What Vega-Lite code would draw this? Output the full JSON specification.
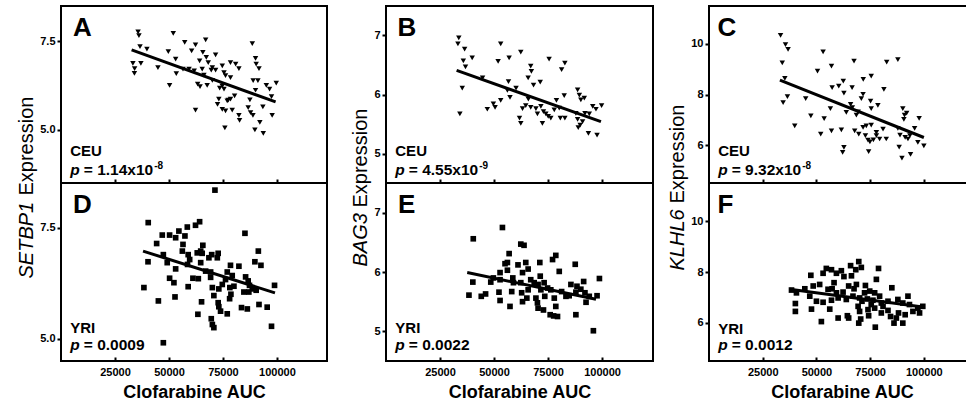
{
  "$schema": "https://vega.github.io/schema/vega-lite/v6.json",
  "background": "white",
  "padding": {"left": 15, "top": 5, "right": 0, "bottom": 0},
  "config": {
    "font": "Liberation Sans",
    "view": {"stroke": "black", "strokeWidth": 2},
    "axis": {"grid": false, "domain": false, "tickColor": "black", "tickWidth": 2, "labelColor": "black", "labelFont": "Liberation Sans", "labelFontWeight": "bold", "labelFontSize": 11, "titleColor": "black", "titleFont": "Liberation Sans"},
    "axisY": {"tickSize": 4, "labelPadding": 2, "titleFontSize": 20, "titleFontWeight": "normal", "titleAngle": 270, "titleAlign": "left", "titlePadding": 3},
    "axisX": {"tickSize": -4, "labelPadding": 9, "titleFontSize": 18, "titleFontWeight": "bold", "titlePadding": 6, "format": "d"}
  },
  "datasets": {
    "pts": [
      {"panel":"A","auc":35700,"expr":7.77},{"panel":"A","auc":36100,"expr":7.66},{"panel":"A","auc":52000,"expr":7.73},{"panel":"A","auc":36600,"expr":7.35},{"panel":"A","auc":39800,"expr":7.28},{"panel":"A","auc":33300,"expr":6.88},{"panel":"A","auc":34100,"expr":6.73},{"panel":"A","auc":34000,"expr":6.60},{"panel":"A","auc":37000,"expr":6.88},{"panel":"A","auc":44900,"expr":6.76},{"panel":"A","auc":50300,"expr":6.26},{"panel":"A","auc":49700,"expr":7.21},{"panel":"A","auc":53100,"expr":7.00},{"panel":"A","auc":53400,"expr":6.59},{"panel":"A","auc":57300,"expr":7.47},{"panel":"A","auc":62300,"expr":7.40},{"panel":"A","auc":60500,"expr":7.23},{"panel":"A","auc":67000,"expr":7.54},{"panel":"A","auc":56500,"expr":6.72},{"panel":"A","auc":59300,"expr":6.72},{"panel":"A","auc":61700,"expr":6.67},{"panel":"A","auc":64200,"expr":6.95},{"panel":"A","auc":65700,"expr":7.19},{"panel":"A","auc":67300,"expr":7.05},{"panel":"A","auc":71600,"expr":7.12},{"panel":"A","auc":68200,"expr":6.90},{"panel":"A","auc":70100,"expr":6.76},{"panel":"A","auc":65400,"expr":6.72},{"panel":"A","auc":66200,"expr":6.55},{"panel":"A","auc":63300,"expr":6.29},{"panel":"A","auc":64400,"expr":6.22},{"panel":"A","auc":67700,"expr":6.26},{"panel":"A","auc":69600,"expr":6.69},{"panel":"A","auc":71600,"expr":6.69},{"panel":"A","auc":74700,"expr":6.81},{"panel":"A","auc":75500,"expr":6.62},{"panel":"A","auc":76200,"expr":6.53},{"panel":"A","auc":78500,"expr":6.90},{"panel":"A","auc":80900,"expr":6.86},{"panel":"A","auc":82400,"expr":6.73},{"panel":"A","auc":78500,"expr":6.48},{"panel":"A","auc":73500,"expr":6.18},{"panel":"A","auc":75500,"expr":6.15},{"panel":"A","auc":74700,"expr":6.24},{"panel":"A","auc":73100,"expr":5.87},{"panel":"A","auc":72500,"expr":5.72},{"panel":"A","auc":74700,"expr":5.58},{"panel":"A","auc":77000,"expr":5.82},{"panel":"A","auc":78500,"expr":5.87},{"panel":"A","auc":80400,"expr":5.96},{"panel":"A","auc":76200,"expr":5.54},{"panel":"A","auc":79300,"expr":5.56},{"panel":"A","auc":62300,"expr":5.56},{"panel":"A","auc":82400,"expr":5.41},{"panel":"A","auc":82700,"expr":5.27},{"panel":"A","auc":75900,"expr":5.06},{"panel":"A","auc":88600,"expr":7.44},{"panel":"A","auc":90100,"expr":7.02},{"panel":"A","auc":90400,"expr":6.86},{"panel":"A","auc":91700,"expr":6.73},{"panel":"A","auc":89000,"expr":6.39},{"panel":"A","auc":91200,"expr":6.39},{"panel":"A","auc":90100,"expr":6.12},{"panel":"A","auc":95100,"expr":6.26},{"panel":"A","auc":96600,"expr":6.15},{"panel":"A","auc":99700,"expr":6.32},{"panel":"A","auc":97500,"expr":5.94},{"panel":"A","auc":87500,"expr":5.85},{"panel":"A","auc":93500,"expr":5.65},{"panel":"A","auc":87800,"expr":5.49},{"panel":"A","auc":88900,"expr":5.41},{"panel":"A","auc":92100,"expr":5.21},{"panel":"A","auc":97800,"expr":5.41},{"panel":"A","auc":89800,"expr":5.00},{"panel":"A","auc":93700,"expr":4.90},{"panel":"A","auc":86700,"expr":5.63},{"panel":"A","auc":77500,"expr":5.84},{"panel":"A","auc":70100,"expr":6.40},
      {"panel":"B","auc":33700,"expr":6.96},{"panel":"B","auc":33300,"expr":6.86},{"panel":"B","auc":36400,"expr":6.77},{"panel":"B","auc":39900,"expr":6.62},{"panel":"B","auc":35800,"expr":6.57},{"panel":"B","auc":36800,"expr":6.47},{"panel":"B","auc":35300,"expr":6.11},{"panel":"B","auc":34200,"expr":5.67},{"panel":"B","auc":53100,"expr":6.86},{"panel":"B","auc":51900,"expr":6.56},{"panel":"B","auc":57000,"expr":6.62},{"panel":"B","auc":62400,"expr":6.72},{"panel":"B","auc":44700,"expr":6.28},{"panel":"B","auc":46900,"expr":5.75},{"panel":"B","auc":49700,"expr":5.84},{"panel":"B","auc":50500,"expr":5.78},{"panel":"B","auc":53100,"expr":5.90},{"panel":"B","auc":56700,"expr":6.22},{"panel":"B","auc":56200,"expr":6.07},{"panel":"B","auc":57400,"expr":5.95},{"panel":"B","auc":60200,"expr":6.11},{"panel":"B","auc":61800,"expr":5.60},{"panel":"B","auc":62400,"expr":5.51},{"panel":"B","auc":63200,"expr":5.76},{"panel":"B","auc":64700,"expr":5.81},{"panel":"B","auc":67000,"expr":6.48},{"panel":"B","auc":67300,"expr":6.39},{"panel":"B","auc":65800,"expr":6.28},{"panel":"B","auc":68300,"expr":6.16},{"panel":"B","auc":71400,"expr":6.21},{"panel":"B","auc":65900,"expr":5.92},{"panel":"B","auc":67000,"expr":5.78},{"panel":"B","auc":69400,"expr":5.76},{"panel":"B","auc":71700,"expr":5.80},{"panel":"B","auc":72400,"expr":5.51},{"panel":"B","auc":75500,"expr":6.60},{"panel":"B","auc":82800,"expr":6.53},{"panel":"B","auc":81300,"expr":6.42},{"panel":"B","auc":82500,"expr":5.98},{"panel":"B","auc":74000,"expr":5.67},{"panel":"B","auc":75100,"expr":5.63},{"panel":"B","auc":76300,"expr":5.60},{"panel":"B","auc":77900,"expr":5.74},{"panel":"B","auc":78900,"expr":5.90},{"panel":"B","auc":80200,"expr":5.77},{"panel":"B","auc":80700,"expr":5.60},{"panel":"B","auc":82800,"expr":5.60},{"panel":"B","auc":72900,"expr":5.71},{"panel":"B","auc":88700,"expr":6.08},{"panel":"B","auc":89500,"expr":5.99},{"panel":"B","auc":90200,"expr":5.91},{"panel":"B","auc":91800,"expr":5.94},{"panel":"B","auc":87900,"expr":5.68},{"panel":"B","auc":88700,"expr":5.58},{"panel":"B","auc":89900,"expr":5.48},{"panel":"B","auc":91000,"expr":5.54},{"panel":"B","auc":92100,"expr":5.68},{"panel":"B","auc":94100,"expr":5.67},{"panel":"B","auc":95700,"expr":5.80},{"panel":"B","auc":97200,"expr":5.75},{"panel":"B","auc":99800,"expr":5.81},{"panel":"B","auc":93700,"expr":5.34},{"panel":"B","auc":97700,"expr":5.31},{"panel":"B","auc":89000,"expr":5.44},{"panel":"B","auc":70100,"expr":5.67},
      {"panel":"C","auc":33300,"expr":10.34},{"panel":"C","auc":35600,"expr":9.97},{"panel":"C","auc":36800,"expr":9.78},{"panel":"C","auc":34100,"expr":9.25},{"panel":"C","auc":35300,"expr":8.64},{"panel":"C","auc":36500,"expr":7.92},{"panel":"C","auc":34500,"expr":7.68},{"panel":"C","auc":39900,"expr":6.76},{"panel":"C","auc":45000,"expr":7.84},{"panel":"C","auc":47400,"expr":7.15},{"panel":"C","auc":50500,"expr":8.92},{"panel":"C","auc":53100,"expr":9.69},{"panel":"C","auc":57000,"expr":9.12},{"panel":"C","auc":53600,"expr":7.05},{"panel":"C","auc":52000,"expr":6.43},{"panel":"C","auc":56500,"expr":7.44},{"panel":"C","auc":57000,"expr":6.56},{"panel":"C","auc":57300,"expr":8.27},{"panel":"C","auc":60400,"expr":8.33},{"panel":"C","auc":62500,"expr":8.53},{"panel":"C","auc":62800,"expr":8.05},{"panel":"C","auc":66600,"expr":8.27},{"panel":"C","auc":67500,"expr":9.32},{"panel":"C","auc":61600,"expr":6.60},{"panel":"C","auc":62800,"expr":5.91},{"panel":"C","auc":62200,"expr":5.71},{"panel":"C","auc":63900,"expr":7.29},{"panel":"C","auc":65900,"expr":7.61},{"panel":"C","auc":66700,"expr":7.48},{"panel":"C","auc":68600,"expr":7.18},{"panel":"C","auc":67800,"expr":6.56},{"panel":"C","auc":69700,"expr":6.43},{"panel":"C","auc":70900,"expr":7.84},{"panel":"C","auc":71700,"expr":8.01},{"panel":"C","auc":71800,"expr":8.60},{"panel":"C","auc":75500,"expr":8.73},{"panel":"C","auc":75200,"expr":7.74},{"panel":"C","auc":75500,"expr":7.44},{"panel":"C","auc":78600,"expr":7.57},{"panel":"C","auc":71700,"expr":6.70},{"panel":"C","auc":73200,"expr":6.76},{"panel":"C","auc":75500,"expr":6.79},{"panel":"C","auc":72800,"expr":6.37},{"panel":"C","auc":74000,"expr":6.20},{"panel":"C","auc":74900,"expr":6.13},{"panel":"C","auc":76500,"expr":6.21},{"panel":"C","auc":77900,"expr":6.37},{"panel":"C","auc":79400,"expr":6.24},{"panel":"C","auc":81000,"expr":6.63},{"panel":"C","auc":82500,"expr":6.24},{"panel":"C","auc":74300,"expr":5.74},{"panel":"C","auc":81400,"expr":8.20},{"panel":"C","auc":82700,"expr":9.28},{"panel":"C","auc":87900,"expr":9.38},{"panel":"C","auc":90200,"expr":7.44},{"panel":"C","auc":91000,"expr":7.18},{"panel":"C","auc":90700,"expr":7.02},{"panel":"C","auc":92000,"expr":7.26},{"panel":"C","auc":87900,"expr":6.66},{"panel":"C","auc":88900,"expr":6.39},{"panel":"C","auc":91300,"expr":6.30},{"panel":"C","auc":93500,"expr":6.37},{"panel":"C","auc":95700,"expr":6.66},{"panel":"C","auc":97800,"expr":7.06},{"panel":"C","auc":97200,"expr":6.11},{"panel":"C","auc":100000,"expr":5.97},{"panel":"C","auc":88500,"expr":5.92},{"panel":"C","auc":89800,"expr":5.48},{"panel":"C","auc":93800,"expr":5.63},{"panel":"C","auc":92600,"expr":6.24},{"panel":"C","auc":77900,"expr":6.50},{"panel":"C","auc":69400,"expr":7.31},
      {"panel":"D","auc":71300,"expr":8.34},{"panel":"D","auc":40400,"expr":7.61},{"panel":"D","auc":46900,"expr":7.33},{"panel":"D","auc":50300,"expr":7.33},{"panel":"D","auc":44300,"expr":7.14},{"panel":"D","auc":53100,"expr":7.27},{"panel":"D","auc":54600,"expr":7.42},{"panel":"D","auc":57400,"expr":7.31},{"panel":"D","auc":58500,"expr":7.51},{"panel":"D","auc":62300,"expr":7.55},{"panel":"D","auc":64200,"expr":7.63},{"panel":"D","auc":56500,"expr":7.12},{"panel":"D","auc":56200,"expr":6.97},{"panel":"D","auc":47400,"expr":6.89},{"panel":"D","auc":40300,"expr":6.73},{"panel":"D","auc":49200,"expr":6.71},{"panel":"D","auc":53100,"expr":6.57},{"panel":"D","auc":58900,"expr":6.89},{"panel":"D","auc":59600,"expr":6.78},{"panel":"D","auc":58600,"expr":6.67},{"panel":"D","auc":63100,"expr":6.93},{"panel":"D","auc":64700,"expr":6.97},{"panel":"D","auc":65700,"expr":7.10},{"panel":"D","auc":65400,"expr":6.92},{"panel":"D","auc":68500,"expr":6.82},{"panel":"D","auc":69800,"expr":6.89},{"panel":"D","auc":72800,"expr":6.92},{"panel":"D","auc":72400,"expr":6.82},{"panel":"D","auc":69300,"expr":6.50},{"panel":"D","auc":69300,"expr":6.38},{"panel":"D","auc":50300,"expr":6.36},{"panel":"D","auc":52300,"expr":6.26},{"panel":"D","auc":61100,"expr":6.36},{"panel":"D","auc":63600,"expr":6.35},{"panel":"D","auc":58900,"expr":6.17},{"panel":"D","auc":38400,"expr":6.15},{"panel":"D","auc":45100,"expr":5.85},{"panel":"D","auc":52800,"expr":5.94},{"panel":"D","auc":65100,"expr":5.83},{"panel":"D","auc":63400,"expr":5.55},{"panel":"D","auc":70100,"expr":6.15},{"panel":"D","auc":73100,"expr":6.12},{"panel":"D","auc":70800,"expr":5.97},{"panel":"D","auc":74700,"expr":6.22},{"panel":"D","auc":76200,"expr":6.33},{"panel":"D","auc":77000,"expr":6.50},{"panel":"D","auc":78500,"expr":6.65},{"panel":"D","auc":79300,"expr":6.42},{"panel":"D","auc":82400,"expr":6.63},{"panel":"D","auc":78200,"expr":6.15},{"panel":"D","auc":78700,"expr":6.00},{"panel":"D","auc":78100,"expr":5.90},{"panel":"D","auc":80100,"expr":6.18},{"panel":"D","auc":72800,"expr":5.81},{"panel":"D","auc":73100,"expr":5.72},{"panel":"D","auc":73900,"expr":5.62},{"panel":"D","auc":77000,"expr":5.56},{"panel":"D","auc":69600,"expr":5.45},{"panel":"D","auc":70100,"expr":5.32},{"panel":"D","auc":70800,"expr":5.25},{"panel":"D","auc":85200,"expr":7.37},{"panel":"D","auc":91400,"expr":6.97},{"panel":"D","auc":89800,"expr":6.73},{"panel":"D","auc":92600,"expr":6.65},{"panel":"D","auc":85500,"expr":6.39},{"panel":"D","auc":86700,"expr":6.30},{"panel":"D","auc":87300,"expr":6.20},{"panel":"D","auc":84700,"expr":6.05},{"panel":"D","auc":87000,"expr":6.05},{"panel":"D","auc":88600,"expr":6.12},{"panel":"D","auc":90400,"expr":6.09},{"panel":"D","auc":83600,"expr":5.70},{"panel":"D","auc":86300,"expr":5.67},{"panel":"D","auc":91700,"expr":5.77},{"panel":"D","auc":95500,"expr":5.71},{"panel":"D","auc":98900,"expr":6.20},{"panel":"D","auc":97500,"expr":5.28},{"panel":"D","auc":47400,"expr":4.91},{"panel":"D","auc":67000,"expr":6.52},{"panel":"D","auc":64700,"expr":6.71},
      {"panel":"E","auc":53900,"expr":6.75},{"panel":"E","auc":40400,"expr":6.56},{"panel":"E","auc":62400,"expr":6.47},{"panel":"E","auc":63900,"expr":6.45},{"panel":"E","auc":57000,"expr":6.31},{"panel":"E","auc":78600,"expr":6.28},{"panel":"E","auc":77100,"expr":6.21},{"panel":"E","auc":87600,"expr":6.13},{"panel":"E","auc":71200,"expr":6.16},{"panel":"E","auc":55100,"expr":6.14},{"panel":"E","auc":61100,"expr":6.12},{"panel":"E","auc":64700,"expr":6.16},{"panel":"E","auc":65800,"expr":6.05},{"panel":"E","auc":56200,"expr":6.03},{"panel":"E","auc":52800,"expr":5.99},{"panel":"E","auc":49700,"expr":5.90},{"panel":"E","auc":40200,"expr":5.83},{"panel":"E","auc":48500,"expr":5.83},{"panel":"E","auc":46100,"expr":5.63},{"panel":"E","auc":44100,"expr":5.59},{"panel":"E","auc":38400,"expr":5.61},{"panel":"E","auc":52300,"expr":5.66},{"panel":"E","auc":52800,"expr":5.52},{"panel":"E","auc":57400,"expr":5.42},{"panel":"E","auc":58700,"expr":5.90},{"panel":"E","auc":59000,"expr":5.82},{"panel":"E","auc":58200,"expr":5.67},{"panel":"E","auc":62800,"expr":5.65},{"panel":"E","auc":63200,"expr":5.50},{"panel":"E","auc":65200,"expr":5.56},{"panel":"E","auc":63200,"expr":5.99},{"panel":"E","auc":67000,"expr":5.87},{"panel":"E","auc":68600,"expr":5.82},{"panel":"E","auc":71400,"expr":5.93},{"panel":"E","auc":70400,"expr":5.79},{"panel":"E","auc":73200,"expr":5.82},{"panel":"E","auc":74800,"expr":5.73},{"panel":"E","auc":71700,"expr":5.70},{"panel":"E","auc":73500,"expr":5.59},{"panel":"E","auc":69400,"expr":5.56},{"panel":"E","auc":70100,"expr":5.48},{"panel":"E","auc":70400,"expr":5.39},{"panel":"E","auc":72900,"expr":5.36},{"panel":"E","auc":76300,"expr":5.70},{"panel":"E","auc":77900,"expr":5.56},{"panel":"E","auc":78600,"expr":5.42},{"panel":"E","auc":77600,"expr":5.26},{"panel":"E","auc":79400,"expr":5.25},{"panel":"E","auc":76000,"expr":5.28},{"panel":"E","auc":80200,"expr":6.01},{"panel":"E","auc":81300,"expr":5.67},{"panel":"E","auc":83300,"expr":5.59},{"panel":"E","auc":84800,"expr":5.60},{"panel":"E","auc":85600,"expr":5.79},{"panel":"E","auc":88400,"expr":5.76},{"panel":"E","auc":87900,"expr":5.66},{"panel":"E","auc":90200,"expr":5.71},{"panel":"E","auc":91500,"expr":5.84},{"panel":"E","auc":92100,"expr":5.65},{"panel":"E","auc":94100,"expr":5.59},{"panel":"E","auc":92600,"expr":5.49},{"panel":"E","auc":97700,"expr":5.60},{"panel":"E","auc":98800,"expr":5.89},{"panel":"E","auc":87900,"expr":5.28},{"panel":"E","auc":96000,"expr":5.01},{"panel":"E","auc":52800,"expr":5.87},{"panel":"E","auc":65800,"expr":5.70},{"panel":"E","auc":62400,"expr":5.82},{"panel":"E","auc":56200,"expr":6.16},
      {"panel":"F","auc":69700,"expr":8.41},{"panel":"F","auc":65900,"expr":8.25},{"panel":"F","auc":68300,"expr":8.09},{"panel":"F","auc":70900,"expr":8.18},{"panel":"F","auc":78900,"expr":8.14},{"panel":"F","auc":54600,"expr":8.14},{"panel":"F","auc":53100,"expr":7.95},{"panel":"F","auc":57000,"expr":8.09},{"panel":"F","auc":59300,"expr":7.95},{"panel":"F","auc":61600,"expr":8.05},{"panel":"F","auc":62800,"expr":7.82},{"panel":"F","auc":66300,"expr":7.85},{"panel":"F","auc":47400,"expr":7.87},{"panel":"F","auc":77900,"expr":7.71},{"panel":"F","auc":85100,"expr":7.38},{"panel":"F","auc":92600,"expr":7.05},{"panel":"F","auc":38400,"expr":7.29},{"panel":"F","auc":40700,"expr":7.18},{"panel":"F","auc":44600,"expr":7.34},{"panel":"F","auc":48500,"expr":7.45},{"panel":"F","auc":51500,"expr":7.51},{"panel":"F","auc":55400,"expr":7.32},{"panel":"F","auc":57300,"expr":7.34},{"panel":"F","auc":59300,"expr":7.18},{"panel":"F","auc":62400,"expr":7.21},{"panel":"F","auc":65000,"expr":7.45},{"panel":"F","auc":68600,"expr":7.51},{"panel":"F","auc":72800,"expr":7.47},{"panel":"F","auc":74800,"expr":7.25},{"panel":"F","auc":77100,"expr":7.18},{"panel":"F","auc":79400,"expr":7.05},{"panel":"F","auc":46900,"expr":7.05},{"panel":"F","auc":50000,"expr":6.85},{"panel":"F","auc":53100,"expr":6.81},{"panel":"F","auc":57000,"expr":6.89},{"panel":"F","auc":60100,"expr":6.98},{"panel":"F","auc":63900,"expr":6.92},{"panel":"F","auc":67000,"expr":7.05},{"panel":"F","auc":70100,"expr":6.98},{"panel":"F","auc":71200,"expr":6.85},{"panel":"F","auc":73700,"expr":6.94},{"panel":"F","auc":76300,"expr":6.89},{"panel":"F","auc":80200,"expr":6.78},{"panel":"F","auc":83300,"expr":6.85},{"panel":"F","auc":87900,"expr":6.92},{"panel":"F","auc":90200,"expr":6.78},{"panel":"F","auc":93300,"expr":6.72},{"panel":"F","auc":97200,"expr":6.58},{"panel":"F","auc":99500,"expr":6.65},{"panel":"F","auc":40200,"expr":6.76},{"panel":"F","auc":40200,"expr":6.45},{"panel":"F","auc":47700,"expr":6.54},{"panel":"F","auc":56200,"expr":6.54},{"panel":"F","auc":60100,"expr":6.19},{"panel":"F","auc":64400,"expr":6.28},{"panel":"F","auc":65000,"expr":6.19},{"panel":"F","auc":69400,"expr":6.65},{"panel":"F","auc":70100,"expr":6.45},{"panel":"F","auc":70600,"expr":6.15},{"panel":"F","auc":69700,"expr":5.99},{"panel":"F","auc":74000,"expr":6.52},{"panel":"F","auc":74300,"expr":6.28},{"panel":"F","auc":77100,"expr":6.58},{"panel":"F","auc":77400,"expr":5.83},{"panel":"F","auc":80200,"expr":6.39},{"panel":"F","auc":83300,"expr":6.49},{"panel":"F","auc":84500,"expr":6.25},{"panel":"F","auc":86100,"expr":5.99},{"panel":"F","auc":87200,"expr":6.19},{"panel":"F","auc":88200,"expr":6.39},{"panel":"F","auc":90200,"expr":5.99},{"panel":"F","auc":91300,"expr":6.32},{"panel":"F","auc":94900,"expr":6.45},{"panel":"F","auc":98000,"expr":6.39},{"panel":"F","auc":52300,"expr":6.05},{"panel":"F","auc":72400,"expr":7.18},{"panel":"F","auc":75500,"expr":6.72},{"panel":"F","auc":81000,"expr":6.65},{"panel":"F","auc":67500,"expr":7.34},{"panel":"F","auc":58200,"expr":7.58}
    ],
    "fits": [
      {"panel":"A","auc":32700,"expr":7.26},{"panel":"A","auc":99400,"expr":5.79},
      {"panel":"B","auc":32700,"expr":6.41},{"panel":"B","auc":99500,"expr":5.54},
      {"panel":"C","auc":33000,"expr":8.57},{"panel":"C","auc":100000,"expr":6.30},
      {"panel":"D","auc":38000,"expr":6.97},{"panel":"D","auc":99100,"expr":6.03},
      {"panel":"E","auc":37600,"expr":5.99},{"panel":"E","auc":97200,"expr":5.54},
      {"panel":"F","auc":37600,"expr":7.32},{"panel":"F","auc":99500,"expr":6.62}
    ],
    "one": [{}]
  },
  "hconcat": [
    {"vconcat": [
      {"width": 266, "height": 177, "layer": [
        {"data": {"name": "pts"}, "transform": [{"filter": "datum.panel === 'A'"}],
         "mark": {"type": "point", "shape": "triangle-down", "filled": true, "color": "black", "size": 30, "opacity": 1},
         "encoding": {
           "x": {"field": "auc", "type": "quantitative", "scale": {"domain": [0, 123200], "nice": false, "zero": false}, "axis": {"title": null, "labels": false, "values": [25000, 50000, 75000, 100000]}},
           "y": {"field": "expr", "type": "quantitative", "scale": {"domain": [3.5, 8.5], "nice": false, "zero": false}, "axis": {"title": "Expression", "titleY": 189, "values": [5, 7.5], "format": ".1f"}}}},
        {"data": {"name": "fits"}, "transform": [{"filter": "datum.panel === 'A'"}], "mark": {"type": "line", "color": "black", "strokeWidth": 3}, "encoding": {"x": {"field": "auc", "type": "quantitative"}, "y": {"field": "expr", "type": "quantitative"}}},
        {"data": {"name": "one"}, "mark": {"type": "text", "text": "A", "fontSize": 26, "fontWeight": "bold", "align": "left", "baseline": "alphabetic", "color": "black"}, "encoding": {"x": {"datum": 5500, "type": "quantitative"}, "y": {"datum": 7.65, "type": "quantitative"}}},
        {"data": {"name": "one"}, "mark": {"type": "text", "text": "CEU", "fontSize": 15, "fontWeight": "bold", "align": "left", "baseline": "alphabetic", "color": "black"}, "encoding": {"x": {"datum": 4300, "type": "quantitative"}, "y": {"datum": 4.26, "type": "quantitative"}}},
        {"data": {"name": "one"}, "mark": {"type": "text", "text": "p", "fontSize": 15.5, "fontWeight": "bold", "fontStyle": "italic", "align": "left", "baseline": "alphabetic", "color": "black"}, "encoding": {"x": {"datum": 4300, "type": "quantitative"}, "y": {"datum": 3.73, "type": "quantitative"}}},
        {"data": {"name": "one"}, "mark": {"type": "text", "text": "= 1.14x10", "dx": 13.5, "fontSize": 15.5, "fontWeight": "bold", "align": "left", "baseline": "alphabetic", "color": "black"}, "encoding": {"x": {"datum": 4300, "type": "quantitative"}, "y": {"datum": 3.73, "type": "quantitative"}}},
        {"data": {"name": "one"}, "mark": {"type": "text", "text": "-8", "dx": 84, "dy": -6, "fontSize": 10, "fontWeight": "bold", "align": "left", "baseline": "alphabetic", "color": "black"}, "encoding": {"x": {"datum": 4300, "type": "quantitative"}, "y": {"datum": 3.73, "type": "quantitative"}}}
      ]},
      {"width": 266, "height": 178, "layer": [
        {"data": {"name": "pts"}, "transform": [{"filter": "datum.panel === 'D'"}],
         "mark": {"type": "point", "shape": "square", "filled": true, "color": "black", "size": 32, "opacity": 1},
         "encoding": {
           "x": {"field": "auc", "type": "quantitative", "scale": {"domain": [0, 123200], "nice": false, "zero": false}, "axis": {"title": "Clofarabine AUC", "values": [25000, 50000, 75000, 100000]}},
           "y": {"field": "expr", "type": "quantitative", "scale": {"domain": [4.5, 8.5], "nice": false, "zero": false}, "axis": {"title": "SETBP1", "titleFontStyle": "italic", "titleY": 95, "values": [5, 7.5], "format": ".1f"}}}},
        {"data": {"name": "fits"}, "transform": [{"filter": "datum.panel === 'D'"}], "mark": {"type": "line", "color": "black", "strokeWidth": 3}, "encoding": {"x": {"field": "auc", "type": "quantitative"}, "y": {"field": "expr", "type": "quantitative"}}},
        {"data": {"name": "one"}, "mark": {"type": "text", "text": "D", "fontSize": 26, "fontWeight": "bold", "align": "left", "baseline": "alphabetic", "color": "black"}, "encoding": {"x": {"datum": 5500, "type": "quantitative"}, "y": {"datum": 7.83, "type": "quantitative"}}},
        {"data": {"name": "one"}, "mark": {"type": "text", "text": "YRI", "fontSize": 15, "fontWeight": "bold", "align": "left", "baseline": "alphabetic", "color": "black"}, "encoding": {"x": {"datum": 4300, "type": "quantitative"}, "y": {"datum": 5.118, "type": "quantitative"}}},
        {"data": {"name": "one"}, "mark": {"type": "text", "text": "p", "fontSize": 15.5, "fontWeight": "bold", "fontStyle": "italic", "align": "left", "baseline": "alphabetic", "color": "black"}, "encoding": {"x": {"datum": 4300, "type": "quantitative"}, "y": {"datum": 4.736, "type": "quantitative"}}},
        {"data": {"name": "one"}, "mark": {"type": "text", "text": "= 0.0009", "dx": 13.5, "fontSize": 15.5, "fontWeight": "bold", "align": "left", "baseline": "alphabetic", "color": "black"}, "encoding": {"x": {"datum": 4300, "type": "quantitative"}, "y": {"datum": 4.736, "type": "quantitative"}}}
      ]}
    ], "spacing": 0, "bounds": "flush"},
    {"hconcat": [
      {"vconcat": [
        {"width": 267, "height": 177, "layer": [
          {"data": {"name": "pts"}, "transform": [{"filter": "datum.panel === 'B'"}],
           "mark": {"type": "point", "shape": "triangle-down", "filled": true, "color": "black", "size": 30, "opacity": 1},
           "encoding": {
             "x": {"field": "auc", "type": "quantitative", "scale": {"domain": [0, 123600], "nice": false, "zero": false}, "axis": {"title": null, "labels": false, "values": [25000, 50000, 75000, 100000]}},
             "y": {"field": "expr", "type": "quantitative", "scale": {"domain": [4.5, 7.5], "nice": false, "zero": false}, "axis": {"title": "Expression", "titleY": 201, "values": [5, 6, 7], "format": "d"}}}},
          {"data": {"name": "fits"}, "transform": [{"filter": "datum.panel === 'B'"}], "mark": {"type": "line", "color": "black", "strokeWidth": 3}, "encoding": {"x": {"field": "auc", "type": "quantitative"}, "y": {"field": "expr", "type": "quantitative"}}},
          {"data": {"name": "one"}, "mark": {"type": "text", "text": "B", "fontSize": 26, "fontWeight": "bold", "align": "left", "baseline": "alphabetic", "color": "black"}, "encoding": {"x": {"datum": 5300, "type": "quantitative"}, "y": {"datum": 6.99, "type": "quantitative"}}},
          {"data": {"name": "one"}, "mark": {"type": "text", "text": "CEU", "fontSize": 15, "fontWeight": "bold", "align": "left", "baseline": "alphabetic", "color": "black"}, "encoding": {"x": {"datum": 4300, "type": "quantitative"}, "y": {"datum": 4.96, "type": "quantitative"}}},
          {"data": {"name": "one"}, "mark": {"type": "text", "text": "p", "fontSize": 15.5, "fontWeight": "bold", "fontStyle": "italic", "align": "left", "baseline": "alphabetic", "color": "black"}, "encoding": {"x": {"datum": 4300, "type": "quantitative"}, "y": {"datum": 4.64, "type": "quantitative"}}},
          {"data": {"name": "one"}, "mark": {"type": "text", "text": "= 4.55x10", "dx": 13.5, "fontSize": 15.5, "fontWeight": "bold", "align": "left", "baseline": "alphabetic", "color": "black"}, "encoding": {"x": {"datum": 4300, "type": "quantitative"}, "y": {"datum": 4.64, "type": "quantitative"}}},
          {"data": {"name": "one"}, "mark": {"type": "text", "text": "-9", "dx": 84, "dy": -6, "fontSize": 10, "fontWeight": "bold", "align": "left", "baseline": "alphabetic", "color": "black"}, "encoding": {"x": {"datum": 4300, "type": "quantitative"}, "y": {"datum": 4.64, "type": "quantitative"}}}
        ]},
        {"width": 267, "height": 178, "layer": [
          {"data": {"name": "pts"}, "transform": [{"filter": "datum.panel === 'E'"}],
           "mark": {"type": "point", "shape": "square", "filled": true, "color": "black", "size": 32, "opacity": 1},
           "encoding": {
             "x": {"field": "auc", "type": "quantitative", "scale": {"domain": [0, 123600], "nice": false, "zero": false}, "axis": {"title": "Clofarabine AUC", "values": [25000, 50000, 75000, 100000]}},
             "y": {"field": "expr", "type": "quantitative", "scale": {"domain": [4.5, 7.5], "nice": false, "zero": false}, "axis": {"title": "BAG3", "titleFontStyle": "italic", "titleY": 83, "values": [5, 6, 7], "format": "d"}}}},
          {"data": {"name": "fits"}, "transform": [{"filter": "datum.panel === 'E'"}], "mark": {"type": "line", "color": "black", "strokeWidth": 3}, "encoding": {"x": {"field": "auc", "type": "quantitative"}, "y": {"field": "expr", "type": "quantitative"}}},
          {"data": {"name": "one"}, "mark": {"type": "text", "text": "E", "fontSize": 26, "fontWeight": "bold", "align": "left", "baseline": "alphabetic", "color": "black"}, "encoding": {"x": {"datum": 5500, "type": "quantitative"}, "y": {"datum": 6.99, "type": "quantitative"}}},
          {"data": {"name": "one"}, "mark": {"type": "text", "text": "YRI", "fontSize": 15, "fontWeight": "bold", "align": "left", "baseline": "alphabetic", "color": "black"}, "encoding": {"x": {"datum": 4300, "type": "quantitative"}, "y": {"datum": 4.964, "type": "quantitative"}}},
          {"data": {"name": "one"}, "mark": {"type": "text", "text": "p", "fontSize": 15.5, "fontWeight": "bold", "fontStyle": "italic", "align": "left", "baseline": "alphabetic", "color": "black"}, "encoding": {"x": {"datum": 4300, "type": "quantitative"}, "y": {"datum": 4.677, "type": "quantitative"}}},
          {"data": {"name": "one"}, "mark": {"type": "text", "text": "= 0.0022", "dx": 13.5, "fontSize": 15.5, "fontWeight": "bold", "align": "left", "baseline": "alphabetic", "color": "black"}, "encoding": {"x": {"datum": 4300, "type": "quantitative"}, "y": {"datum": 4.677, "type": "quantitative"}}}
        ]}
      ], "spacing": 0, "bounds": "flush"},
      {"vconcat": [
        {"width": 266, "height": 177, "layer": [
          {"data": {"name": "pts"}, "transform": [{"filter": "datum.panel === 'C'"}],
           "mark": {"type": "point", "shape": "triangle-down", "filled": true, "color": "black", "size": 30, "opacity": 1},
           "encoding": {
             "x": {"field": "auc", "type": "quantitative", "scale": {"domain": [0, 123800], "nice": false, "zero": false}, "axis": {"title": null, "labels": false, "values": [25000, 50000, 75000, 100000]}},
             "y": {"field": "expr", "type": "quantitative", "scale": {"domain": [4.5, 11.5], "nice": false, "zero": false}, "axis": {"title": "Expression", "titleY": 197, "values": [6, 8, 10], "format": "d"}}}},
          {"data": {"name": "fits"}, "transform": [{"filter": "datum.panel === 'C'"}], "mark": {"type": "line", "color": "black", "strokeWidth": 3}, "encoding": {"x": {"field": "auc", "type": "quantitative"}, "y": {"field": "expr", "type": "quantitative"}}},
          {"data": {"name": "one"}, "mark": {"type": "text", "text": "C", "fontSize": 26, "fontWeight": "bold", "align": "left", "baseline": "alphabetic", "color": "black"}, "encoding": {"x": {"datum": 4000, "type": "quantitative"}, "y": {"datum": 10.31, "type": "quantitative"}}},
          {"data": {"name": "one"}, "mark": {"type": "text", "text": "CEU", "fontSize": 15, "fontWeight": "bold", "align": "left", "baseline": "alphabetic", "color": "black"}, "encoding": {"x": {"datum": 4300, "type": "quantitative"}, "y": {"datum": 5.57, "type": "quantitative"}}},
          {"data": {"name": "one"}, "mark": {"type": "text", "text": "p", "fontSize": 15.5, "fontWeight": "bold", "fontStyle": "italic", "align": "left", "baseline": "alphabetic", "color": "black"}, "encoding": {"x": {"datum": 4300, "type": "quantitative"}, "y": {"datum": 4.82, "type": "quantitative"}}},
          {"data": {"name": "one"}, "mark": {"type": "text", "text": "= 9.32x10", "dx": 13.5, "fontSize": 15.5, "fontWeight": "bold", "align": "left", "baseline": "alphabetic", "color": "black"}, "encoding": {"x": {"datum": 4300, "type": "quantitative"}, "y": {"datum": 4.82, "type": "quantitative"}}},
          {"data": {"name": "one"}, "mark": {"type": "text", "text": "-8", "dx": 84, "dy": -6, "fontSize": 10, "fontWeight": "bold", "align": "left", "baseline": "alphabetic", "color": "black"}, "encoding": {"x": {"datum": 4300, "type": "quantitative"}, "y": {"datum": 4.82, "type": "quantitative"}}}
        ]},
        {"width": 266, "height": 178, "layer": [
          {"data": {"name": "pts"}, "transform": [{"filter": "datum.panel === 'F'"}],
           "mark": {"type": "point", "shape": "square", "filled": true, "color": "black", "size": 32, "opacity": 1},
           "encoding": {
             "x": {"field": "auc", "type": "quantitative", "scale": {"domain": [0, 123800], "nice": false, "zero": false}, "axis": {"title": "Clofarabine AUC", "values": [25000, 50000, 75000, 100000]}},
             "y": {"field": "expr", "type": "quantitative", "scale": {"domain": [4.5, 11.5], "nice": false, "zero": false}, "axis": {"title": "KLHL6", "titleFontStyle": "italic", "titleY": 87, "values": [6, 8, 10], "format": "d"}}}},
          {"data": {"name": "fits"}, "transform": [{"filter": "datum.panel === 'F'"}], "mark": {"type": "line", "color": "black", "strokeWidth": 3}, "encoding": {"x": {"field": "auc", "type": "quantitative"}, "y": {"field": "expr", "type": "quantitative"}}},
          {"data": {"name": "one"}, "mark": {"type": "text", "text": "F", "fontSize": 26, "fontWeight": "bold", "align": "left", "baseline": "alphabetic", "color": "black"}, "encoding": {"x": {"datum": 4000, "type": "quantitative"}, "y": {"datum": 10.32, "type": "quantitative"}}},
          {"data": {"name": "one"}, "mark": {"type": "text", "text": "YRI", "fontSize": 15, "fontWeight": "bold", "align": "left", "baseline": "alphabetic", "color": "black"}, "encoding": {"x": {"datum": 4300, "type": "quantitative"}, "y": {"datum": 5.58, "type": "quantitative"}}},
          {"data": {"name": "one"}, "mark": {"type": "text", "text": "p", "fontSize": 15.5, "fontWeight": "bold", "fontStyle": "italic", "align": "left", "baseline": "alphabetic", "color": "black"}, "encoding": {"x": {"datum": 4300, "type": "quantitative"}, "y": {"datum": 4.913, "type": "quantitative"}}},
          {"data": {"name": "one"}, "mark": {"type": "text", "text": "= 0.0012", "dx": 13.5, "fontSize": 15.5, "fontWeight": "bold", "align": "left", "baseline": "alphabetic", "color": "black"}, "encoding": {"x": {"datum": 4300, "type": "quantitative"}, "y": {"datum": 4.913, "type": "quantitative"}}}
        ]}
      ], "spacing": 0, "bounds": "flush"}
    ], "spacing": 12}
  ],
  "spacing": 21
}
